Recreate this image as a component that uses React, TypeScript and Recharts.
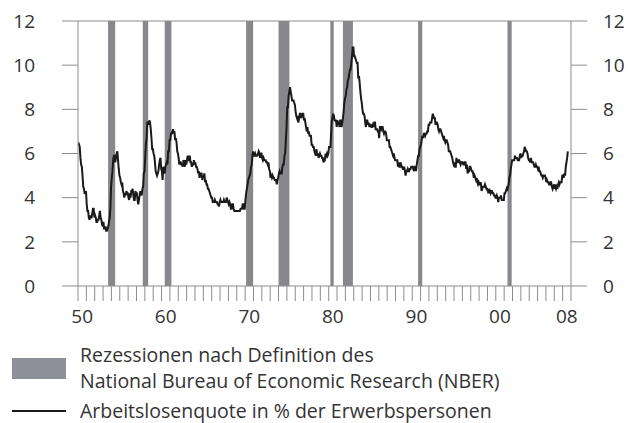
import React from 'react';
import { ComposedChart, Line, XAxis, YAxis, ReferenceArea, ReferenceLine } from 'recharts';

// Monthly unemployment rate (%), Jan..Dec for each year of the decade
const ur1950s = [
  6.5, 6.4, 6.3, 5.8, 5.5, 5.4, 5.0, 4.5, 4.4, 4.2, 4.2, 4.3,
  3.7, 3.4, 3.4, 3.1, 3.0, 3.2, 3.1, 3.1, 3.3, 3.5, 3.5, 3.1,
  3.2, 3.1, 2.9, 2.9, 3.0, 3.0, 3.2, 3.4, 3.1, 3.0, 2.8, 2.7,
  2.9, 2.6, 2.6, 2.7, 2.5, 2.5, 2.6, 2.7, 2.9, 3.1, 3.5, 4.5,
  4.9, 5.2, 5.7, 5.9, 5.9, 5.6, 5.8, 6.0, 6.1, 5.7, 5.3, 5.0,
  4.9, 4.7, 4.6, 4.7, 4.3, 4.2, 4.0, 4.2, 4.1, 4.3, 4.2, 4.2,
  4.0, 3.9, 4.2, 4.0, 4.3, 4.3, 4.4, 4.1, 3.9, 3.9, 4.3, 4.2,
  4.2, 3.9, 3.7, 3.9, 4.1, 4.3, 4.2, 4.1, 4.4, 4.5, 5.1, 5.2,
  5.8, 6.4, 6.7, 7.4, 7.4, 7.3, 7.5, 7.4, 7.1, 6.7, 6.2, 6.2,
  6.0, 5.9, 5.6, 5.2, 5.1, 5.0, 5.1, 5.2, 5.5, 5.7, 5.8, 5.3,
];
const ur1960s = [
  5.2, 4.8, 5.4, 5.2, 5.1, 5.4, 5.5, 5.6, 5.5, 6.1, 6.1, 6.6,
  6.6, 6.9, 6.9, 7.0, 7.1, 6.9, 7.0, 6.6, 6.7, 6.5, 6.1, 6.0,
  5.8, 5.5, 5.6, 5.6, 5.5, 5.5, 5.4, 5.7, 5.6, 5.4, 5.7, 5.5,
  5.7, 5.9, 5.7, 5.7, 5.9, 5.6, 5.6, 5.4, 5.5, 5.5, 5.7, 5.5,
  5.6, 5.4, 5.4, 5.3, 5.1, 5.2, 4.9, 5.0, 5.1, 5.1, 4.8, 5.0,
  4.9, 5.1, 4.7, 4.8, 4.6, 4.6, 4.4, 4.4, 4.3, 4.2, 4.1, 4.0,
  4.0, 3.8, 3.8, 3.8, 3.9, 3.8, 3.8, 3.8, 3.7, 3.7, 3.6, 3.8,
  3.9, 3.8, 3.8, 3.8, 3.8, 3.9, 3.8, 3.8, 3.8, 4.0, 3.9, 3.8,
  3.7, 3.8, 3.7, 3.5, 3.5, 3.7, 3.7, 3.5, 3.4, 3.4, 3.4, 3.4,
  3.4, 3.4, 3.4, 3.4, 3.4, 3.5, 3.5, 3.5, 3.7, 3.7, 3.5, 3.5,
];
const ur1970s = [
  3.9, 4.2, 4.4, 4.6, 4.8, 4.9, 5.0, 5.1, 5.4, 5.5, 5.9, 6.1,
  5.9, 5.9, 6.0, 5.9, 5.9, 5.9, 6.0, 6.1, 6.0, 5.8, 6.0, 6.0,
  5.8, 5.7, 5.8, 5.7, 5.7, 5.7, 5.6, 5.6, 5.5, 5.6, 5.3, 5.2,
  4.9, 5.0, 4.9, 5.0, 4.9, 4.9, 4.8, 4.8, 4.8, 4.6, 4.8, 4.9,
  5.1, 5.2, 5.1, 5.1, 5.1, 5.4, 5.5, 5.5, 5.9, 6.0, 6.6, 7.2,
  8.1, 8.1, 8.6, 8.8, 9.0, 8.8, 8.6, 8.4, 8.4, 8.4, 8.3, 8.2,
  7.9, 7.7, 7.6, 7.7, 7.4, 7.6, 7.8, 7.8, 7.6, 7.7, 7.8, 7.8,
  7.5, 7.6, 7.4, 7.2, 7.0, 7.2, 6.9, 7.0, 6.8, 6.8, 6.8, 6.4,
  6.4, 6.3, 6.3, 6.1, 6.0, 5.9, 6.2, 5.9, 6.0, 5.8, 5.9, 6.0,
  5.9, 5.9, 5.8, 5.8, 5.6, 5.7, 5.7, 6.0, 5.9, 6.0, 5.9, 6.0,
];
const ur1980s = [
  6.3, 6.3, 6.3, 6.9, 7.5, 7.6, 7.8, 7.7, 7.5, 7.5, 7.5, 7.2,
  7.5, 7.4, 7.4, 7.2, 7.5, 7.5, 7.2, 7.4, 7.6, 7.9, 8.3, 8.5,
  8.6, 8.9, 9.0, 9.3, 9.4, 9.6, 9.8, 9.8, 10.1, 10.4, 10.8, 10.8,
  10.4, 10.4, 10.3, 10.2, 10.1, 10.1, 9.4, 9.5, 9.2, 8.8, 8.5, 8.3,
  8.0, 7.8, 7.8, 7.7, 7.4, 7.2, 7.5, 7.5, 7.3, 7.4, 7.2, 7.3,
  7.3, 7.2, 7.2, 7.3, 7.2, 7.4, 7.4, 7.1, 7.1, 7.1, 7.0, 7.0,
  6.7, 7.2, 7.2, 7.1, 7.2, 7.2, 7.0, 6.9, 7.0, 7.0, 6.9, 6.6,
  6.6, 6.6, 6.6, 6.3, 6.3, 6.2, 6.1, 6.0, 5.9, 6.0, 5.8, 5.7,
  5.7, 5.7, 5.7, 5.4, 5.6, 5.4, 5.4, 5.6, 5.4, 5.4, 5.3, 5.3,
  5.4, 5.2, 5.0, 5.2, 5.2, 5.3, 5.2, 5.2, 5.3, 5.3, 5.4, 5.4,
];
const ur1990s = [
  5.4, 5.3, 5.2, 5.4, 5.4, 5.2, 5.5, 5.7, 5.9, 5.9, 6.2, 6.3,
  6.4, 6.6, 6.8, 6.7, 6.9, 6.9, 6.8, 6.9, 6.9, 7.0, 7.0, 7.3,
  7.3, 7.4, 7.4, 7.4, 7.6, 7.8, 7.7, 7.6, 7.6, 7.3, 7.4, 7.4,
  7.3, 7.1, 7.0, 7.1, 7.1, 7.0, 6.9, 6.8, 6.7, 6.8, 6.6, 6.5,
  6.6, 6.6, 6.5, 6.4, 6.1, 6.1, 6.1, 6.0, 5.9, 5.8, 5.6, 5.5,
  5.6, 5.4, 5.4, 5.8, 5.6, 5.6, 5.7, 5.7, 5.6, 5.5, 5.6, 5.6,
  5.6, 5.5, 5.5, 5.6, 5.6, 5.3, 5.5, 5.1, 5.2, 5.2, 5.4, 5.4,
  5.3, 5.2, 5.2, 5.1, 4.9, 5.0, 4.9, 4.8, 4.9, 4.7, 4.6, 4.7,
  4.6, 4.6, 4.7, 4.3, 4.4, 4.5, 4.5, 4.5, 4.6, 4.5, 4.4, 4.4,
  4.3, 4.4, 4.2, 4.3, 4.2, 4.3, 4.3, 4.2, 4.2, 4.1, 4.1, 4.0,
];
const ur2000s = [
  4.0, 4.1, 4.0, 3.8, 4.0, 4.0, 4.0, 4.1, 3.9, 3.9, 3.9, 3.9,
  4.2, 4.2, 4.3, 4.4, 4.3, 4.5, 4.6, 4.9, 5.0, 5.3, 5.5, 5.7,
  5.7, 5.7, 5.7, 5.9, 5.8, 5.8, 5.8, 5.7, 5.7, 5.7, 5.9, 6.0,
  5.8, 5.9, 5.9, 6.0, 6.1, 6.3, 6.2, 6.1, 6.1, 6.0, 5.8, 5.7,
  5.7, 5.6, 5.8, 5.6, 5.6, 5.6, 5.5, 5.4, 5.4, 5.5, 5.4, 5.4,
  5.3, 5.4, 5.2, 5.2, 5.1, 5.0, 5.0, 4.9, 5.0, 5.0, 5.0, 4.9,
  4.7, 4.8, 4.7, 4.7, 4.6, 4.6, 4.7, 4.7, 4.5, 4.4, 4.5, 4.4,
  4.6, 4.5, 4.4, 4.5, 4.4, 4.6, 4.7, 4.6, 4.7, 4.7, 4.7, 5.0,
  5.0, 4.9, 5.1, 5.0, 5.4, 5.6, 5.8, 6.1,
];
const decadeStarts = [1950, 1960, 1970, 1980, 1990, 2000];
const decadeSeries = [ur1950s, ur1960s, ur1970s, ur1980s, ur1990s, ur2000s];

// NBER recessions (fractional years)
const recessionStart = [1953.6, 1957.75, 1960.38, 1970.12, 1974.0, 1980.2, 1981.7, 1990.7, 2001.4];
const recessionEnd = [1954.45, 1958.4, 1961.18, 1970.96, 1975.3, 1980.6, 1982.9, 1991.2, 2001.9];

const yTicks = [0, 2, 4, 6, 8, 10, 12];
const firstYear = 1950;
const lastYear = 2008;
const labelYears = [1950, 1960, 1970, 1980, 1990, 2000, 2008];
const labelTexts = ['50', '60', '70', '80', '90', '00', '08'];

const legendRecession = ['Rezessionen nach Definition des', 'National Bureau of Economic Research (NBER)'];
const legendLine = 'Arbeitslosenquote in % der Erwerbspersonen';

const data: { x: number; u: number }[] = [];
decadeSeries.forEach((arr, d) => {
  arr.forEach((v, i) => {
    data.push({ x: decadeStarts[d] + Math.floor(i / 12) + ((i % 12) + 0.5) / 12, u: v });
  });
});

const xTicks: number[] = [];
for (let y = firstYear; y <= lastYear + 1; y++) xTicks.push(y);

const FONT = '"Open Sans", sans-serif';
const AXIS = '#8c8c8c';
const TEXT = '#333333';
const BAR = '#88888c';

const PLOT_LEFT = 78;
const PLOT_RIGHT = 571;
const yearPx = (PLOT_RIGHT - PLOT_LEFT) / (lastYear + 1 - firstYear);

const XTick = (props: any) => {
  const { x, y, payload } = props;
  const idx = labelYears.indexOf(payload.value);
  if (idx < 0) return <g />;
  return (
    <text x={x + yearPx / 2} y={y + 20} textAnchor="middle" fontSize={19} fontFamily={FONT} fill={TEXT}>
      {labelTexts[idx]}
    </text>
  );
};

export default function App() {
  return (
    <div style={{ position: 'absolute', left: 0, top: 0, width: 628, height: 423, background: '#fff' }}>
      <div style={{ position: 'absolute', left: 0, top: 0 }}>
        <ComposedChart width={628} height={330} data={data} margin={{ top: 21, right: 0, bottom: 0, left: 0 }}>
          <XAxis
            dataKey="x"
            type="number"
            domain={[firstYear, lastYear + 1]}
            ticks={xTicks}
            interval={0}
            height={44}
            tickSize={15}
            tickMargin={2}
            axisLine={{ stroke: AXIS }}
            tickLine={{ stroke: AXIS }}
            tick={<XTick />}
            allowDataOverflow
          />
          <YAxis
            yAxisId="left"
            domain={[0, 12]}
            ticks={yTicks}
            width={78}
            tickSize={16}
            tickMargin={27}
            axisLine={{ stroke: AXIS }}
            tickLine={{ stroke: AXIS }}
            tick={{ fontSize: 19, fontFamily: FONT, fill: TEXT }}
            allowDataOverflow
          />
          <YAxis
            yAxisId="right"
            orientation="right"
            domain={[0, 12]}
            ticks={yTicks}
            width={57}
            tickSize={16}
            tickMargin={16}
            axisLine={{ stroke: AXIS }}
            tickLine={{ stroke: AXIS }}
            tick={{ fontSize: 19, fontFamily: FONT, fill: TEXT }}
            allowDataOverflow
          />
          {recessionStart.map((s, i) => (
            <ReferenceArea
              key={i}
              yAxisId="left"
              x1={s}
              x2={recessionEnd[i]}
              y1={0}
              y2={12}
              fill={BAR}
              fillOpacity={1}
              stroke="none"
              ifOverflow="visible"
            />
          ))}
          <ReferenceLine yAxisId="left" y={12} stroke={AXIS} strokeWidth={1} />
          <Line
            yAxisId="left"
            type="linear"
            dataKey="u"
            stroke="#1a1a1a"
            strokeWidth={2}
            dot={false}
            isAnimationActive={false}
          />
        </ComposedChart>
      </div>
      <svg width={628} height={93} style={{ position: 'absolute', left: 0, top: 330 }}>
        <rect x={12} y={28} width={54} height={21} fill="#8e9099" />
        <text x={80} y={32} fontSize={19.5} fontFamily={FONT} fill={TEXT}>{legendRecession[0]}</text>
        <text x={80} y={58} fontSize={19.5} fontFamily={FONT} fill={TEXT}>{legendRecession[1]}</text>
        <line x1={12} x2={66} y1={81} y2={81} stroke="#1a1a1a" strokeWidth={2} />
        <text x={80} y={88} fontSize={19.5} fontFamily={FONT} fill={TEXT}>{legendLine}</text>
      </svg>
    </div>
  );
}
